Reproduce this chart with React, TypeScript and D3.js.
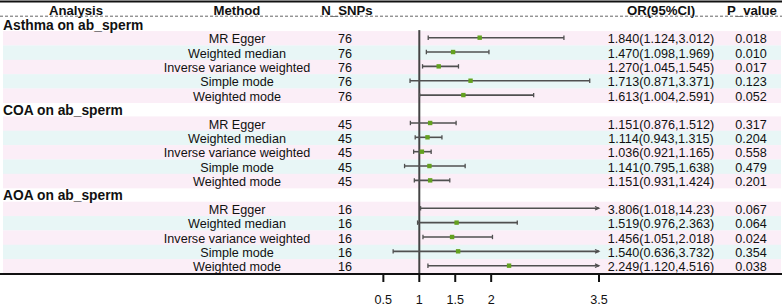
import React from "react";
import * as d3 from "d3";

const groups = ["Asthma on ab_sperm", "COA on ab_sperm", "AOA on ab_sperm"];
const methods = ["MR Egger", "Weighted median", "Inverse variance weighted", "Simple mode", "Weighted mode"];
const nSnps = [76, 45, 16];
const orEst = [
  [1.84, 1.47, 1.27, 1.713, 1.613],
  [1.151, 1.114, 1.036, 1.141, 1.151],
  [3.806, 1.519, 1.456, 1.54, 2.249],
];
const orLow = [
  [1.124, 1.098, 1.045, 0.871, 1.004],
  [0.876, 0.943, 0.921, 0.795, 0.931],
  [1.018, 0.976, 1.051, 0.636, 1.12],
];
const orHigh = [
  [3.012, 1.969, 1.545, 3.371, 2.591],
  [1.512, 1.315, 1.165, 1.638, 1.424],
  [14.23, 2.363, 2.018, 3.732, 4.516],
];
const orLabels = [
  ["1.840(1.124,3.012)", "1.470(1.098,1.969)", "1.270(1.045,1.545)", "1.713(0.871,3.371)", "1.613(1.004,2.591)"],
  ["1.151(0.876,1.512)", "1.114(0.943,1.315)", "1.036(0.921,1.165)", "1.141(0.795,1.638)", "1.151(0.931,1.424)"],
  ["3.806(1.018,14.23)", "1.519(0.976,2.363)", "1.456(1.051,2.018)", "1.540(0.636,3.732)", "2.249(1.120,4.516)"],
];
const pValues = [
  ["0.018", "0.010", "0.017", "0.123", "0.052"],
  ["0.317", "0.204", "0.558", "0.479", "0.201"],
  ["0.067", "0.064", "0.024", "0.354", "0.038"],
];
const ticks = [0.5, 1, 1.5, 2, 3.5];
const headers = ["Analysis", "Method", "N_SNPs", "OR(95%CI)", "P_value"];

const W = 782;
const H = 306;
const FONT = "Arial, 'Liberation Sans', sans-serif";
const PINK = "#fbeef7";
const CYAN = "#e8f6f6";
const LINE = "#505050";
const GREEN = "#63a11f";

export default function App() {
  const x = d3.scaleLinear().domain([1, 3.5]).range([419.3, 599]);
  const xMin = 0.5;
  const xMax = 3.5;
  const groupStart = (g: number) => 17.5 + g * 85.3;
  const titleH = 13.6;
  const rowH = 14.35;
  const rowTop = (g: number, i: number) => groupStart(g) + titleH + i * rowH;
  const axisY = 274;
  const headerX = [76, 237, 347, 661, 752];
  const colMethod = 237;
  const colN = 345;
  const colOR = 661;
  const colP = 751;

  return (
    <svg
      width={W}
      height={H}
      style={{ position: "absolute", left: 0, top: 0, background: "#fff" }}
      fontFamily={FONT}
    >
      <rect x={0} y={0} width={W} height={H} fill="#fff" />
      {/* row backgrounds */}
      {groups.map((gName, g) => (
        <g key={gName + "bg"}>
          {methods.map((m, i) => (
            <rect
              key={m}
              x={3}
              y={rowTop(g, i)}
              width={W - 4}
              height={rowH + 0.2}
              fill={i % 2 === 0 ? PINK : CYAN}
            />
          ))}
        </g>
      ))}
      {/* top line */}
      <line x1={0} x2={W} y1={1.5} y2={1.5} stroke="#111" strokeWidth={2} />
      {/* headers */}
      {headers.map((h, k) => (
        <text key={h} x={headerX[k]} y={14.5} textAnchor="middle" fontSize={13.2} fontWeight="bold" fill="#111">
          {h}
        </text>
      ))}
      <line x1={0} x2={W} y1={16.2} y2={16.2} stroke="#666" strokeWidth={1} strokeDasharray="3,2" />

      {groups.map((gName, g) => (
        <text key={gName} x={3} y={groupStart(g) + 12} fontSize={13.8} fontWeight="bold" fill="#111">
          {gName}
        </text>
      ))}

      {/* reference line */}
      <line x1={x(1)} x2={x(1)} y1={rowTop(0, 0) - 1} y2={axisY} stroke="#444" strokeWidth={2} />

      {groups.map((gName, g) => (
        <g key={gName + "rows"}>
          {methods.map((m, i) => {
            const top = rowTop(g, i);
            const cy = top + rowH / 2 - 0.6;
            const base = top + rowH / 2 + 5;
            const lo = orLow[g][i];
            const hi = orHigh[g][i];
            const est = orEst[g][i];
            const x1 = x(Math.max(lo, xMin));
            const x2 = x(Math.min(hi, xMax));
            const arrowRight = hi > xMax;
            return (
              <g key={m}>
                <text x={colMethod} y={base} textAnchor="middle" fontSize={12.6} fill="#111">
                  {m}
                </text>
                <text x={colN} y={base} textAnchor="middle" fontSize={12.6} fill="#111">
                  {nSnps[g]}
                </text>
                <text x={colOR} y={base} textAnchor="middle" fontSize={12.6} fill="#111">
                  {orLabels[g][i]}
                </text>
                <text x={colP} y={base} textAnchor="middle" fontSize={12.6} fill="#111">
                  {pValues[g][i]}
                </text>
                <line x1={x1} x2={x2} y1={cy} y2={cy} stroke={LINE} strokeWidth={1.6} />
                <line x1={x1} x2={x1} y1={cy - 2.2} y2={cy + 2.2} stroke={LINE} strokeWidth={1.3} />
                {arrowRight ? (
                  <path
                    d={`M${x2 - 4},${cy - 1.8} L${x2},${cy} L${x2 - 4},${cy + 1.8}`}
                    fill="none"
                    stroke={LINE}
                    strokeWidth={1.2}
                  />
                ) : (
                  <line x1={x2} x2={x2} y1={cy - 2.2} y2={cy + 2.2} stroke={LINE} strokeWidth={1.3} />
                )}
                {est <= xMax && (
                  <rect x={x(est) - 2.2} y={cy - 2.2} width={4.4} height={4.4} fill={GREEN} />
                )}
              </g>
            );
          })}
        </g>
      ))}

      {/* axis */}
      <line x1={0} x2={W} y1={axisY} y2={axisY} stroke="#111" strokeWidth={2} />
      {ticks.map((t) => (
        <g key={t}>
          <line x1={x(t)} x2={x(t)} y1={axisY} y2={axisY + 8} stroke="#111" strokeWidth={2} />
          <text x={x(t)} y={303.5} textAnchor="middle" fontSize={12.6} fill="#111">
            {t}
          </text>
        </g>
      ))}
    </svg>
  );
}
